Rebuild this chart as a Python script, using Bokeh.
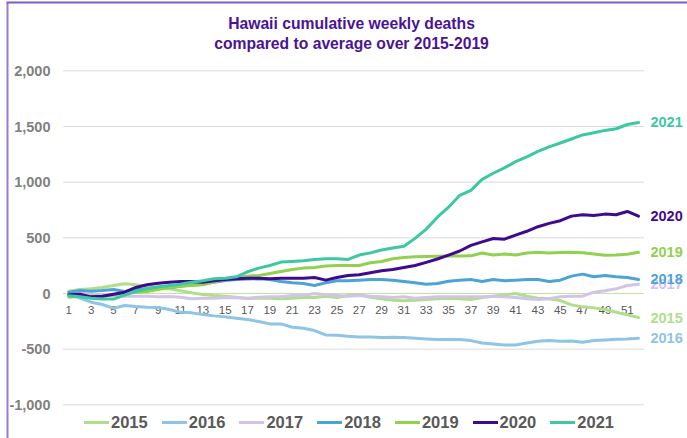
from bokeh.plotting import figure
from bokeh.models import (Range1d, Legend, LegendItem, Label, ColumnDataSource)
from bokeh.core.properties import value
from bokeh.embed import file_html
from bokeh.resources import INLINE

# ---------------- data ----------------
weeks = list(range(1, 53))
years = ["2015", "2016", "2017", "2018", "2019", "2020", "2021"]

deaths_2015 = [20, 36, 42, 54, 72, 87, 78, 63, 54, 42,
               24, 6, -9, -18, -24, -33, -45, -42, -42, -48,
               -42, -36, -36, -24, -36, -18, -12, -33, -48, -60,
               -66, -60, -54, -48, -42, -48, -54, -36, -24, -12,
               0, -24, -42, -48, -63, -102, -120, -129, -144, -168,
               -192, -216]
deaths_2016 = [-3, -42, -78, -99, -132, -108, -117, -123, -126, -144,
               -168, -174, -189, -201, -210, -222, -234, -252, -273, -273,
               -303, -312, -333, -372, -375, -384, -390, -390, -396, -393,
               -396, -402, -408, -414, -414, -414, -423, -444, -453, -462,
               -462, -444, -429, -423, -429, -426, -438, -423, -417, -411,
               -408, -402]
deaths_2017 = [0, 0, -6, -12, -18, -24, -24, -24, -30, -27,
               -33, -48, -42, -42, -36, -39, -42, -33, -30, -30,
               -18, -18, 0, -12, -18, -24, -18, -24, -30, -36,
               -30, -42, -36, -30, -30, -30, -30, -30, -24, -30,
               -36, -48, -54, -48, -30, -24, -24, 12, 24, 42,
               72, 84]
deaths_2018 = [12, 27, 21, 27, 36, 18, 33, 42, 51, 54,
               66, 78, 87, 102, 117, 126, 130, 132, 126, 108,
               96, 90, 72, 96, 114, 114, 120, 126, 126, 120,
               108, 96, 84, 90, 110, 120, 126, 108, 126, 114,
               120, 126, 126, 108, 120, 156, 174, 150, 162, 150,
               144, 126]
deaths_2019 = [-33, -24, -24, -24, -12, 6, 12, 18, 36, 54,
               66, 72, 78, 102, 126, 144, 156, 162, 180, 198,
               216, 228, 234, 246, 252, 252, 252, 276, 288, 312,
               324, 330, 332, 334, 336, 336, 338, 364, 346, 355,
               346, 364, 370, 364, 368, 370, 366, 355, 343, 346,
               352, 370]
deaths_2020 = [-12, -6, -30, -24, -6, 12, 54, 78, 93, 102,
               108, 108, 102, 114, 126, 132, 138, 138, 132, 138,
               138, 138, 144, 120, 144, 162, 168, 186, 204, 216,
               234, 252, 280, 310, 345, 382, 432, 464, 494, 488,
               524, 559, 600, 630, 654, 695, 707, 701, 713, 707,
               737, 695]
deaths_2021 = [-20, -30, -42, -50, -50, -15, 18, 42, 60, 72,
               84, 102, 114, 132, 138, 150, 195, 228, 252, 282,
               288, 294, 306, 312, 312, 306, 345, 365, 390, 408,
               425, 495, 578, 685, 775, 882, 926, 1025, 1080, 1128,
               1184, 1228, 1276, 1317, 1352, 1388, 1424, 1444, 1465, 1480,
               1518, 1536]

series = [deaths_2015, deaths_2016, deaths_2017, deaths_2018,
          deaths_2019, deaths_2020, deaths_2021]
colors = ["#B0DE8B", "#8EC4E6", "#D3C3E8", "#4BA3D6", "#92D050", "#3F0B8E", "#3CC8A2"]

y_ticks = [-1000, -500, 0, 500, 1000, 1500, 2000]
y_tick_labels = ["-1,000", "-500", "0", "500", "1,000", "1,500", "2,000"]
week_ticks = [w for w in weeks if w % 2 == 1]
week_labels = [str(w) for w in week_ticks]
title_lines = ["Hawaii cumulative weekly deaths", "compared to average over 2015-2019"]

# ---------------- layout constants (page pixels) ----------------
W, H = 687, 438
CX0, CY0 = 0, 0          # canvas origin on the page
X1_PX, DX_PX = 68.3, 11.17          # page x of week 1, px per week
Y0_PX, DY_PX = 293.0, 334.0 / 3000  # page y of value 0, px per unit


def x_at(px):
    return 1 + (px - X1_PX) / DX_PX


def y_at(py):
    return (Y0_PX - py) / DY_PX


FONT = "Liberation Sans"

p = figure(width=W, height=H, output_backend="svg", toolbar_location=None,
           x_axis_type=None, y_axis_type=None,
           x_range=Range1d(x_at(CX0), x_at(CX0 + W)),
           y_range=Range1d(y_at(CY0 + H), y_at(CY0)),
           min_border_left=0, min_border_right=0,
           min_border_top=0, min_border_bottom=0,
           outline_line_color=None, background_fill_color="white",
           border_fill_color="white")
p.grid.visible = False

# chart-area border (left and top edges)
p.segment(x0=[x_at(7)], x1=[x_at(7)], y0=[y_at(2)], y1=[y_at(H + 5)],
          line_color="#9A7DD0", line_width=2)
p.segment(x0=[x_at(6)], x1=[x_at(W + 5)], y0=[y_at(2)], y1=[y_at(2)],
          line_color="#7E5CC0", line_width=2)

# gridlines across the category span
p.segment(x0=[0.5] * len(y_ticks), x1=[52.5] * len(y_ticks), y0=y_ticks, y1=y_ticks,
          line_color="#D9D9D9", line_width=1)
# category axis line at zero
p.segment(x0=[0.5], x1=[52.5], y0=[0], y1=[0], line_color="#C2E4A2", line_width=1)

# value-axis labels
p.text(x=[x_at(50)] * len(y_ticks), y=y_ticks, text=y_tick_labels,
       text_align="right", text_baseline="middle",
       text_font=value(FONT), text_font_size="14.5px", text_font_style="bold",
       text_color="#808080")

# week labels at the zero line
p.text(x=week_ticks, y=[0] * len(week_ticks), text=week_labels,
       text_align="center", text_baseline="middle", y_offset=16,
       text_font=value(FONT), text_font_size="11.5px", text_color="#595959")

items = []
for yr, vals, c in zip(years, series, colors):
    r = p.line(weeks, vals, line_color=c, line_width=3,
               line_join="round", line_cap="round")
    items.append(LegendItem(label=yr, renderers=[r]))

# end-of-line labels
src = ColumnDataSource(dict(x=[weeks[-1]] * len(years),
                            y=[s[-1] for s in series],
                            text=years, color=colors))
p.text(x="x", y="y", text="text", text_color="color", source=src,
       x_offset=12, text_align="left", text_baseline="middle",
       text_font=value(FONT), text_font_size="14.5px", text_font_style="bold")

# title
for i, line in enumerate(title_lines):
    p.add_layout(Label(x=x_at(351), y=y_at(23 + 20 * i), text=line,
                       text_align="center", text_baseline="middle",
                       text_font=FONT, text_font_size="15.7px",
                       text_font_style="bold", text_color="#4A1496"))

legend = Legend(items=items, orientation="horizontal",
                location=(84 - CX0, (CY0 + H) - 432),
                padding=0, margin=0, spacing=14,
                glyph_width=25, glyph_height=20, label_standoff=2,
                label_text_font=FONT, label_text_font_style="bold",
                label_text_font_size="16.5px", label_text_color="#595959",
                border_line_color=None, background_fill_alpha=0)
p.add_layout(legend)

open("out.html", "w").write(file_html(p, INLINE))
